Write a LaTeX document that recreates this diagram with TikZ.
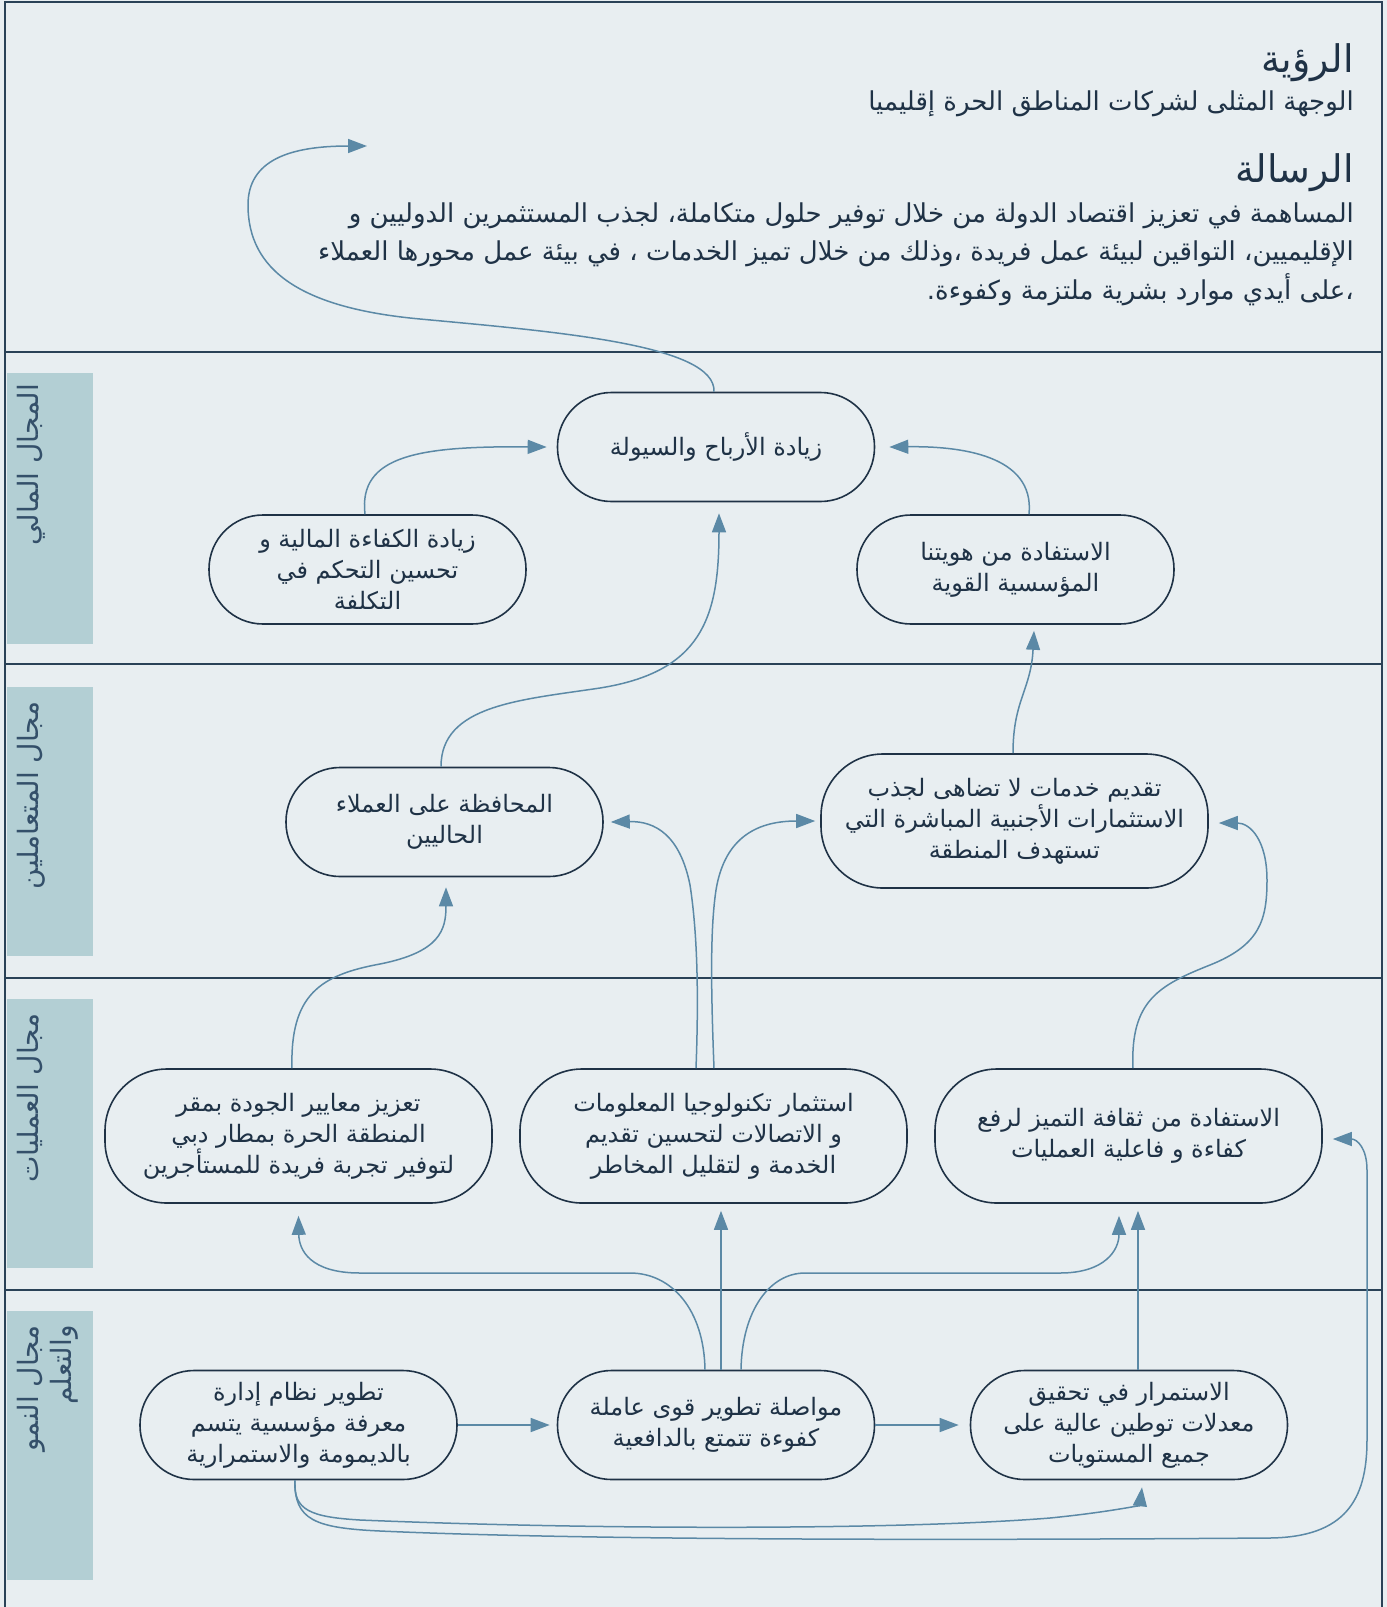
\documentclass[tikz,border=0pt]{standalone}
\usepackage{fontspec}
\usetikzlibrary{arrows.meta}
\newfontfamily\arabicfont[Script=Arabic]{DejaVu Sans}
\TeXXeTstate=1
\definecolor{bgc}{HTML}{E8EEF1}
\definecolor{sidec}{HTML}{B3CFD4}
\definecolor{framec}{HTML}{2A4257}
\definecolor{arrowc}{HTML}{5B89A6}
\definecolor{textc}{HTML}{1F3246}
\definecolor{labelc}{HTML}{34506A}
\newcommand{\rl}[1]{\beginR #1\endR}
\begin{document}
\begin{tikzpicture}[x=1pt,y=-1pt,
  box/.style={draw=textc, line width=1.6pt, align=center, text=textc,
    font=\arabicfont\fontsize{24}{31}\selectfont, inner sep=0pt},
  sbox/.style={box, minimum width=317pt, minimum height=109pt, rounded corners=54pt},
  lbox/.style={box, minimum width=387pt, minimum height=134pt, rounded corners=62pt},
  conn/.style={draw=arrowc, line width=1.5pt, -{Triangle[length=19pt,width=14pt]}},
  sidelab/.style={rotate=90, anchor=north east, align=right, text=labelc, inner sep=0pt,
    font=\arabicfont\fontsize{28}{33}\selectfont},
  ttl/.style={anchor=base east, text=textc, inner sep=0pt, font=\arabicfont\fontsize{38}{44}\selectfont},
  para/.style={anchor=base east, text=textc, inner sep=0pt, font=\arabicfont\fontsize{26}{30}\selectfont}
]
\useasboundingbox (0,0) rectangle (1387,1607);
\fill[bgc] (0,0) rectangle (1387,1607);
% side label boxes
\fill[sidec] (7,373) rectangle (93,644);
\fill[sidec] (7,687) rectangle (93,956);
\fill[sidec] (7,999) rectangle (93,1268);
\fill[sidec] (7,1311) rectangle (93,1580);
% frame and section lines
\draw[framec, line width=2pt] (5,1607) -- (5,2) -- (1382,2) -- (1382,1607);
\foreach \yy in {352,664,978,1290} \draw[framec, line width=1.8pt] (5,\yy) -- (1382,\yy);
% side labels
\node[sidelab] (L1) at (17,384) {\rl{المجال المالي}};
\node[sidelab] (L2) at (17,701) {\rl{مجال المتعاملين}};
\node[sidelab] (L3) at (17,1013) {\rl{مجال العمليات}};
\node[sidelab] (L4) at (17,1325) {\rl{مجال النمو}\\\rl{والتعلم}};
% header texts
\node[ttl] (T1) at (1354,72) {\rl{الرؤية}};
\node[para] (S1) at (1354,110) {\rl{الوجهة المثلى لشركات المناطق الحرة إقليميا}};
\node[ttl] (T2) at (1354,182) {\rl{الرسالة}};
\node[para] (P1) at (1354,222) {\rl{المساهمة في تعزيز اقتصاد الدولة من خلال توفير حلول  متكاملة، لجذب المستثمرين الدوليين و}};
\node[para] (P2) at (1354,260) {\rl{الإقليميين، التواقين لبيئة عمل فريدة ،وذلك من خلال تميز الخدمات ، في بيئة عمل محورها العملاء}};
\node[para] (P3) at (1354,299) {\rl{،على أيدي موارد بشرية ملتزمة وكفوءة.}};
\coordinate (vtip) at (367,146);
% nodes
\node[sbox] (N1) at (716,447) {\rl{زيادة الأرباح والسيولة}};
\node[sbox] (N2) at (367.5,569.5) {\rl{زيادة الكفاءة المالية و}\\\rl{تحسين التحكم في}\\\rl{التكلفة}};
\node[sbox] (N3) at (1015.5,569.5) {\rl{الاستفادة من هويتنا}\\\rl{المؤسسية القوية}};
\node[sbox] (N4) at (444.5,822) {\rl{المحافظة على العملاء}\\\rl{الحاليين}};
\node[lbox] (N5) at (1014.5,821) {\rl{تقديم خدمات لا تضاهى لجذب}\\\rl{الاستثمارات الأجنبية المباشرة التي}\\\rl{تستهدف المنطقة}};
\node[lbox] (N6) at (298.5,1136) {\rl{تعزيز معايير الجودة بمقر}\\\rl{المنطقة الحرة بمطار دبي}\\\rl{لتوفير تجربة فريدة للمستأجرين}};
\node[lbox] (N7) at (713.5,1136) {\rl{استثمار تكنولوجيا المعلومات}\\\rl{و الاتصالات لتحسين تقديم}\\\rl{الخدمة و لتقليل المخاطر}};
\node[lbox] (N8) at (1128.5,1136) {\rl{الاستفادة من ثقافة التميز لرفع}\\\rl{كفاءة و فاعلية العمليات}};
\node[sbox] (N9) at (298.5,1425) {\rl{تطوير نظام إدارة}\\\rl{معرفة مؤسسية يتسم}\\\rl{بالديمومة والاستمرارية}};
\node[sbox] (N10) at (716,1425) {\rl{مواصلة تطوير قوى عاملة}\\\rl{كفوءة تتمتع بالدافعية}};
\node[sbox] (N11) at (1129,1425) {\rl{الاستمرار في تحقيق}\\\rl{معدلات توطين عالية على}\\\rl{جميع المستويات}};
% connectors
\draw[conn] ([xshift=-2pt]N1.north) .. controls (716,345) and (560,332) .. (420,319) .. controls (300,308) and (248,270) .. (248,205) .. controls (248,160) and (290,146) .. (vtip);
\draw[conn] ([xshift=-2.5pt]N2.north) .. controls (358,455) and (420,446) .. ([xshift=-10pt]N1.west);
\draw[conn] ([xshift=13.5pt]N3.north) .. controls (1035,455) and (960,446) .. ([xshift=14pt]N1.east);
\draw[conn] ([xshift=-3.5pt]N4.north) .. controls (441,705) and (520,700) .. (600,688) .. controls (700,672) and (719,620) .. ([xshift=3pt,yshift=-11pt]N1.south);
\draw[conn] ([xshift=-1.5pt]N5.north) .. controls (1013,700) and (1031,690) .. ([xshift=18.5pt,yshift=-6pt]N3.south);
\draw[conn] ([xshift=-6.5pt]N6.north) .. controls (290,995) and (320,975) .. (380,964) .. controls (440,952) and (446,930) .. ([xshift=1.5pt,yshift=-10pt]N4.south);
\draw[conn] ([xshift=-17.5pt]N7.north) .. controls (699,990) and (697,930) .. (690,885) .. controls (680,835) and (655,821) .. ([xshift=7pt]N4.east);
\draw[conn] ([xshift=0.5pt]N7.north) .. controls (711,990) and (710,930) .. (716,890) .. controls (725,835) and (760,821) .. ([xshift=-5pt]N5.west);
\draw[conn] ([xshift=4.5pt]N8.north) .. controls (1130,1000) and (1160,985) .. (1210,965) .. controls (1260,945) and (1267,920) .. (1267,880) .. controls (1267,840) and (1250,823) .. ([xshift=10pt,yshift=-2pt]N5.east);
\draw[conn] (N9.east) -- ([xshift=-7pt]N10.west);
\draw[conn] (N10.east) -- ([xshift=-11pt]N11.west);
\draw[conn] ([xshift=5pt]N10.north) -- ([xshift=7.5pt,yshift=-7pt]N7.south);
\draw[conn] ([xshift=-11pt]N10.north) .. controls (704,1310) and (672,1273) .. (630,1273) -- (360,1273) .. controls (310,1273) and (299,1250) .. ([yshift=-12pt]N6.south);
\draw[conn] ([xshift=25pt]N10.north) .. controls (742,1310) and (770,1273) .. (805,1273) -- (1060,1273) .. controls (1105,1273) and (1119,1250) .. ([xshift=-9.5pt,yshift=-12pt]N8.south);
\draw[conn] ([xshift=9pt]N11.north) -- ([xshift=9.5pt,yshift=-7pt]N8.south);
\draw[conn] ([xshift=-3.5pt]N9.south) .. controls (293,1510) and (310,1517) .. (360,1520) .. controls (600,1530) and (900,1530) .. (1050,1518) .. controls (1110,1512) and (1140,1505) .. ([xshift=13pt,yshift=-7pt]N11.south);
\draw[conn] ([xshift=-3.5pt]N9.south) .. controls (294,1520) and (315,1528) .. (380,1531) .. controls (600,1541) and (1000,1540) .. (1270,1538) .. controls (1345,1537) and (1367,1500) .. (1367,1440) -- (1367,1170) .. controls (1367,1148) and (1357,1139) .. ([xshift=10pt,yshift=-3pt]N8.east);
\end{tikzpicture}
\end{document}
